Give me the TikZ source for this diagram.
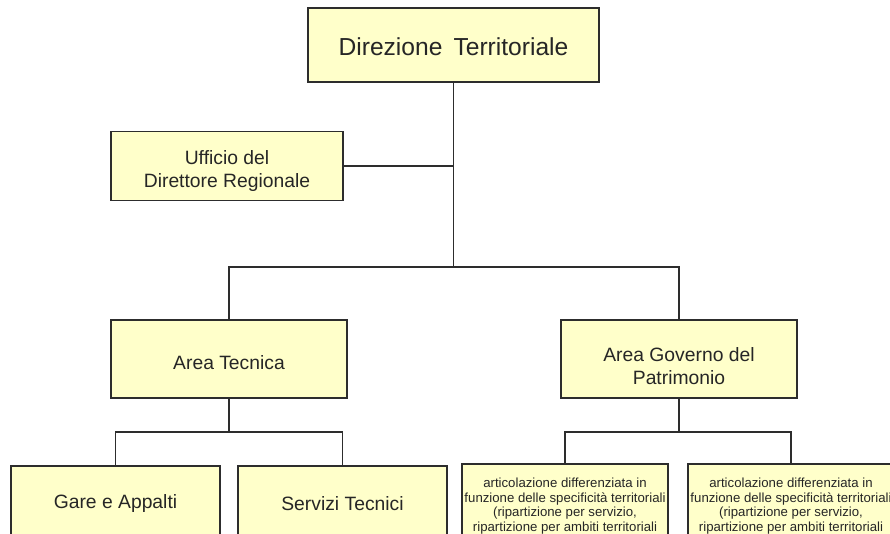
\documentclass[tikz,border=0pt]{standalone}
\usepackage{fontspec}
\setmainfont{Liberation Sans}
\definecolor{boxyellow}{RGB}{255,255,202}
\definecolor{edgegray}{RGB}{45,45,45}
\newcommand{\topstrut}[1]{\rule{0pt}{#1}}
\begin{document}
\begin{tikzpicture}[x=1pt,y=-1pt,
  box/.style={draw=edgegray, line width=1.4pt, fill=boxyellow, inner sep=1pt, align=center, text=black!85},
  bigfont/.style={font=\fontsize{24.6}{28}\selectfont},
  midfont/.style={font=\fontsize{19.3}{23}\selectfont},
  smallfont/.style={font=\fontsize{13.2}{14.8}\selectfont},
  conn/.style={draw=edgegray, line width=1.4pt}]
\useasboundingbox (0,0) rectangle (890,533);
\clip (0,0) rectangle (890,533);
\fill[white] (0,0) rectangle (890,533);
\coordinate (busa) at (0,267);
\coordinate (busb) at (0,432);
\node[box, bigfont, minimum width=291pt, minimum height=74pt] (dir) at (453.5,45) {\topstrut{21pt}Direzione\hspace{0.45em}Territoriale};
\node[box, midfont, minimum width=232pt, minimum height=69pt] (uff) at (227,166) {\topstrut{24pt}Ufficio del\\Direttore Regionale};
\node[box, midfont, minimum width=236pt, minimum height=78pt] (tec) at (229,359) {\topstrut{22pt}Area Tecnica};
\node[box, midfont, minimum width=236pt, minimum height=78pt] (gov) at (679,359) {\topstrut{29pt}Area Governo del\\Patrimonio};
\node[box, midfont, minimum width=209pt, minimum height=72pt] (gare) at (115.5,502) {\topstrut{17pt}Gare e Appalti};
\node[box, midfont, minimum width=209pt, minimum height=72pt] (serv) at (342.5,502) {\topstrut{17pt}Servizi Tecnici};
\node[box, smallfont, minimum width=206pt, minimum height=84pt] (art1) at (565,506) {articolazione differenziata in\\funzione delle specificità territoriali\\(ripartizione per servizio,\\ripartizione per ambiti territoriali};
\node[box, smallfont, minimum width=206pt, minimum height=84pt] (art2) at (791,506) {articolazione differenziata in\\funzione delle specificità territoriali\\(ripartizione per servizio,\\ripartizione per ambiti territoriali};
\draw[conn] (dir.south) -- (dir.south |- busa);
\draw[conn] (uff.east) -- (uff.east -| dir.south);
\draw[conn] (tec.north) -- (tec.north |- busa) -- (gov.north |- busa) -- (gov.north);
\draw[conn] (tec.south) -- (tec.south |- busb);
\draw[conn] (gare.north) -- (gare.north |- busb) -- (serv.north |- busb) -- (serv.north);
\draw[conn] (gov.south) -- (gov.south |- busb);
\draw[conn] (art1.north) -- (art1.north |- busb) -- (art2.north |- busb) -- (art2.north);
\end{tikzpicture}
\end{document}
